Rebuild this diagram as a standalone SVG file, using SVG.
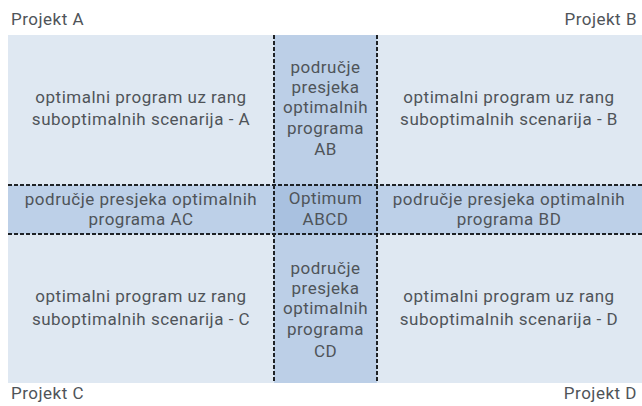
<svg xmlns="http://www.w3.org/2000/svg" width="642" height="406" viewBox="0 0 642 406">
<style>
text{font-family:Roboto,"Open Sans","Liberation Sans",sans-serif;font-size:17px;letter-spacing:0.5px;fill:#4f5459;text-anchor:middle}
.dash{stroke:#1e2226;stroke-width:2;stroke-dasharray:4 2;fill:none}
</style>
<rect x="0" y="0" width="642" height="406" fill="#ffffff"/>
<g id="cellA"><rect x="8" y="35" width="266" height="150" fill="#dfe8f2"/>
<text x="141" y="103">optimalni program uz rang</text><text x="141" y="125">suboptimalnih scenarija - A</text></g>
<g id="cellB"><rect x="377" y="35" width="265" height="150" fill="#dfe8f2"/>
<text x="509" y="103">optimalni program uz rang</text><text x="509" y="125">suboptimalnih scenarija - B</text></g>
<g id="cellC"><rect x="8" y="234" width="266" height="149" fill="#dfe8f2"/>
<text x="141" y="302">optimalni program uz rang</text><text x="141" y="325">suboptimalnih scenarija - C</text></g>
<g id="cellD"><rect x="377" y="234" width="265" height="149" fill="#dfe8f2"/>
<text x="509" y="302">optimalni program uz rang</text><text x="509" y="325">suboptimalnih scenarija - D</text></g>
<g id="cellAB"><rect x="274" y="35" width="103" height="150" fill="#bccfe7"/>
<text x="325.5" y="73">područje</text><text x="325.5" y="93">presjeka</text><text x="325.5" y="113">optimalnih</text><text x="325.5" y="134">programa</text><text x="325.5" y="155">AB</text></g>
<g id="cellCD"><rect x="274" y="234" width="103" height="149" fill="#bccfe7"/>
<text x="325.5" y="274">područje</text><text x="325.5" y="294">presjeka</text><text x="325.5" y="314">optimalnih</text><text x="325.5" y="335">programa</text><text x="325.5" y="357">CD</text></g>
<g id="cellAC"><rect x="8" y="185" width="266" height="49" fill="#bdd0e8"/>
<text x="141" y="205">područje presjeka optimalnih</text><text x="141" y="225">programa AC</text></g>
<g id="cellBD"><rect x="377" y="185" width="265" height="49" fill="#bdd0e8"/>
<text x="509" y="205">područje presjeka optimalnih</text><text x="509" y="225">programa BD</text></g>
<g id="cellABCD"><rect x="274" y="185" width="103" height="49" fill="#a9c1e0"/>
<text x="325.5" y="204">Optimum</text><text x="325.5" y="225">ABCD</text></g>
<g id="connectors">
<line class="dash" x1="8" y1="185" x2="642" y2="185"/>
<line class="dash" x1="8" y1="234" x2="642" y2="234"/>
<line class="dash" x1="274" y1="35" x2="274" y2="383"/>
<line class="dash" x1="377" y1="35" x2="377" y2="383"/>
</g>
<g id="labels">
<text x="11" y="25" style="text-anchor:start">Projekt A</text>
<text x="637" y="25" style="text-anchor:end">Projekt B</text>
<text x="11" y="399" style="text-anchor:start">Projekt C</text>
<text x="637" y="399" style="text-anchor:end">Projekt D</text>
</g>
</svg>
